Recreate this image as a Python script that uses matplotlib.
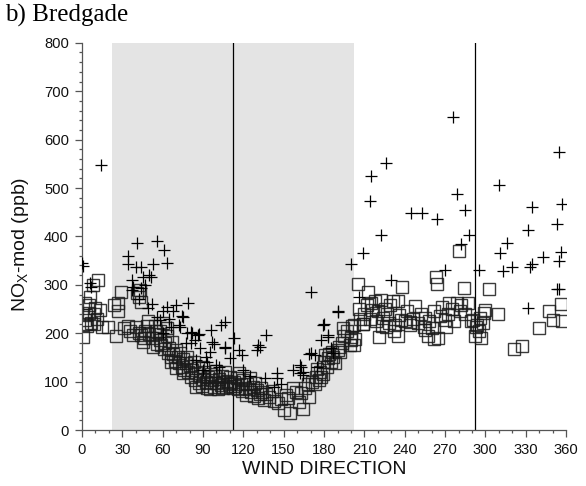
import numpy as np
import matplotlib
matplotlib.use('Agg')
import matplotlib.pyplot as plt
from matplotlib.ticker import MultipleLocator

plt.rcParams['font.family'] = ['Liberation Sans', 'DejaVu Sans']
plt.rcParams['mathtext.default'] = 'regular'

# NOx-mod (squares): wind direction / ppb
sq_dir = [1, 2, 2, 3, 4, 5, 6, 7, 8, 9, 10, 12, 13, 3, 9, 15, 19, 11, 5,
          25, 27, 29, 24, 27, 31, 34, 36, 38, 40, 41, 42, 43, 44, 42, 44, 46, 47, 45, 48, 49, 50,
          52, 54, 55, 56, 57, 58, 59, 60, 61, 62, 63, 64, 65, 66, 67, 68, 69, 70, 71, 72, 73, 74,
          75, 76, 77, 78, 79, 80, 53, 58, 63, 66, 70, 75,
          81, 82, 83, 84, 85, 86, 87, 88, 89, 90, 91, 92, 93, 94, 95, 96, 97, 98, 99, 100, 101,
          102, 103, 104, 105, 106, 107, 108, 109, 110, 111, 112, 85, 90, 95, 100, 105, 110,
          113, 114, 115, 116, 117, 118, 119, 120, 121, 122, 123, 124, 125, 126, 127, 128, 129,
          130, 131, 132, 133, 134, 135, 137, 139, 141, 143,
          146, 148, 150, 152, 153, 155, 157, 159, 161, 163, 164, 166, 168, 169, 171, 173,
          174, 175, 176, 177, 178, 179, 180, 181, 182, 183, 184, 185, 186, 187, 188, 190, 191,
          192, 193, 194, 195, 197, 199, 200, 201, 202, 203, 205, 207, 209, 206,
          210, 212, 213, 214, 215, 216, 218, 219, 220, 222, 223, 224, 225, 226, 227, 228, 229,
          231, 232, 233, 235, 236, 237, 238, 240, 242, 244, 246, 248, 250, 252, 254, 255, 257,
          258, 260, 262, 263, 264, 265, 266, 268, 270, 272, 273, 275, 277, 279, 280, 281, 282,
          284, 285, 287, 289, 221, 235, 262, 255, 271, 244, 209, 200, 202,
          291, 292, 293, 294, 295, 296, 297, 298, 299, 300, 303, 309, 321, 327, 340, 347, 350,
          356, 357]
sq_nox = [193, 228, 262, 238, 214, 258, 275, 222, 300, 240, 253, 311, 249, 220, 219, 212, 213, 230, 242,
          194, 263, 286, 258, 246, 210, 215, 205, 196, 212, 283, 275, 289, 265, 200, 196, 190, 205, 183, 215, 225, 198,
          190, 215, 205, 178, 198, 187, 175, 222, 168, 180, 195, 160, 170, 150, 182, 158, 143, 165, 150, 138, 160, 130,
          147, 125, 138, 152, 120, 132, 172, 205, 210, 140, 128, 118,
          110, 125, 140, 103, 118, 128, 98, 112, 92, 106, 120, 100, 88, 110, 97, 116, 104, 90, 112, 98, 85,
          105, 94, 112, 100, 120, 90, 102, 95, 110, 98, 88, 90, 130, 85, 122, 88, 92,
          100, 92, 108, 85, 118, 95, 80, 104, 88, 72, 96, 84, 108, 78, 90, 70, 98,
          82, 66, 75, 88, 79, 62, 74, 69, 80, 60,
          55, 64, 41, 72, 66, 36, 86, 79, 58, 76, 43, 88, 95, 69, 100, 96,
          110, 127, 103, 120, 110, 115, 140, 155, 130, 148, 158, 141, 162, 150, 138, 165, 172,
          162, 180, 211, 195, 205, 176, 193, 215, 217, 189, 301, 230, 220, 250,
          240, 258, 285, 230, 262, 248, 266, 225, 245, 269, 215, 232, 250, 212, 240, 222, 258,
          266, 205, 218, 266, 238, 228, 296, 225, 245, 218, 230, 256, 222, 240, 213, 232, 195,
          225, 210, 245, 317, 301, 190, 235, 255, 228, 240, 262, 250, 225, 262, 370, 245, 258,
          293, 240, 262, 225, 193, 194, 189, 207, 212, 224, 220, 186, 176,
          228, 195, 212, 218, 205, 232, 190, 222, 241, 248, 291, 239, 167, 174, 211, 247, 227,
          260, 225]

# NOx-mod (plus): wind direction / ppb
pl_dir = [0, 1, 14, 6, 7,
          34, 34, 40, 44, 41, 56, 61, 63, 53, 50, 51, 37, 38, 37, 45, 47, 44, 49, 42, 56, 58, 52, 60,
          68, 70, 79, 74, 72, 75, 66, 73, 81, 82, 87, 81, 77, 84, 86, 96, 103, 106, 97, 98, 95, 106,
          106, 113, 117, 119, 131, 130, 132, 137, 136, 100, 90, 85, 92, 110, 120, 125, 88, 93, 102,
          78, 65, 60, 63,
          145, 145, 148, 143, 157, 162, 164, 163, 162, 164, 170, 173, 170, 169, 178, 183, 179, 180,
          183, 190, 190, 175, 185, 187, 200, 206, 209,
          214, 215, 226, 222, 230, 245, 253, 264, 270, 276, 279, 282, 285, 288, 295, 310, 311, 313,
          316, 320, 332, 332, 333, 335, 335, 343, 353, 353, 355, 355, 355, 356, 357]
pl_nox = [345, 338, 548, 304, 296,
          360, 344, 337, 337, 387, 391, 372, 346, 344, 320, 317, 310, 296, 289, 317, 300, 293, 253, 270, 234, 227, 260, 245,
          247, 258, 263, 235, 217, 234, 213, 213, 203, 200, 198, 179, 179, 186, 196, 207, 217, 224, 182, 178, 162, 169,
          172, 190, 165, 155, 176, 165, 172, 196, 107, 134, 124, 145, 150, 148, 125, 112, 170, 140, 130,
          200, 230, 200, 255,
          117, 107, 96, 90, 125, 134, 120, 131, 117, 114, 160, 155, 286, 158, 186, 196, 217, 219,
          193, 244, 246, 130, 170, 160, 344, 274, 365,
          474, 525, 551, 403, 310, 448, 448, 436, 330, 646, 488, 384, 455, 403, 330, 506, 366, 328,
          387, 337, 413, 253, 337, 343, 460, 358, 425, 291, 291, 350, 574, 368, 466]

x_ticks = np.arange(0, 361, 30)
y_ticks = np.arange(0, 801, 100)

fig = plt.figure(figsize=(5.86, 4.86), dpi=100)
ax = fig.add_axes([0.140, 0.115, 0.826, 0.797])

# street sector (shaded) and street axis lines
ax.axvspan(22.5, 202.5, color='#e4e4e4', lw=0, zorder=0)
ax.axvline(112.5, color='black', lw=0.9, zorder=1)
ax.axvline(292.5, color='black', lw=0.9, zorder=1)

ax.plot(sq_dir, sq_nox, ls='none', marker='s', ms=8.2, mfc='none', mec='#1a1a1a',
        mew=1.0, alpha=0.85, zorder=2)
ax.plot(pl_dir, pl_nox, ls='none', marker='+', ms=8.5, mec='black', mew=0.9, zorder=3)

ax.set_xlim(0, 360)
ax.set_ylim(0, 800)
ax.set_xticks(x_ticks)
ax.set_yticks(y_ticks)
ax.xaxis.set_minor_locator(MultipleLocator(10))
ax.yaxis.set_minor_locator(MultipleLocator(20))
ax.tick_params(which='major', direction='out', length=5, width=0.9, color='#555555',
               labelsize=10.6, labelcolor='#111111', pad=4.5)
ax.tick_params(which='minor', direction='out', length=2.5, width=0.9, color='#555555')
for s in ['top', 'right']:
    ax.spines[s].set_visible(False)
for s in ['left', 'bottom']:
    ax.spines[s].set_color('#555555')
    ax.spines[s].set_linewidth(0.9)
ax.set_facecolor('white')

ax.set_xlabel('WIND DIRECTION', fontsize=14, color='#111111', labelpad=3)
ax.set_ylabel('NO$_X$-mod (ppb)', fontsize=14, color='#111111')
ax.yaxis.set_label_coords(-0.106, 0.48)

fig.text(0.008, 0.955, 'b) Bredgade', fontsize=18, family=['Liberation Serif', 'DejaVu Serif'],
         color='black', va='baseline')

fig.savefig('out.png', dpi=100)
